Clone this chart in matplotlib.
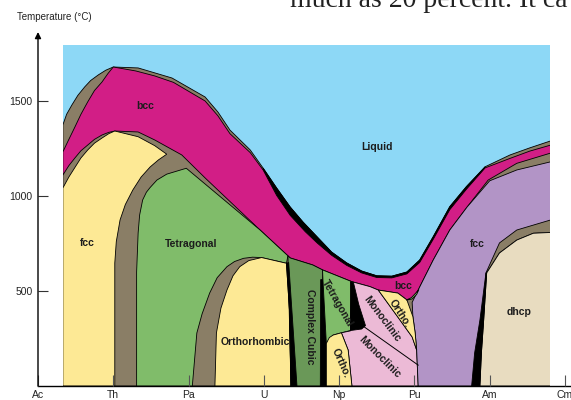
import numpy as np
import matplotlib
matplotlib.use('Agg')
import matplotlib.pyplot as plt
from matplotlib.patches import Rectangle

# axis labels
ELEMENTS = ['Ac', 'Th', 'Pa', 'U', 'Np', 'Pu', 'Am', 'Cm']
Y_TICKS = [500, 1000, 1500]

# extent of the coloured diagram (element index, deg C)
X_LEFT, X_RIGHT, T_TOP = 0.33, 6.81, 1795

# liquidus (top of all solid phases)
LIQ_X = [0.33, 0.38, 0.45, 0.53, 0.62, 0.70, 0.80, 0.90, 1.00, 1.33, 1.78, 2.22, 2.39, 2.55,
         2.82, 2.99, 3.17, 3.35, 3.52, 3.71, 3.90, 4.10, 4.30, 4.50, 4.70, 4.90, 5.07, 5.25,
         5.47, 5.69, 5.94, 6.27, 6.53, 6.81]
LIQ_T = [1374, 1430, 1479, 1530, 1574, 1608, 1637, 1662, 1679, 1674, 1621, 1521, 1442, 1347,
         1242, 1147, 1042, 942, 863, 784, 705, 648, 605, 580, 578, 600, 663, 786,
         944, 1049, 1154, 1216, 1253, 1290]

# bcc phase, upper and lower boundary
BCC_TOP_X = [0.33, 0.40, 0.49, 0.57, 0.66, 0.75, 0.85, 0.93, 1.00, 1.30, 1.55, 1.80, 2.22,
             2.39, 2.55, 2.82, 2.99, 3.17, 3.35, 3.55, 3.71, 3.90, 4.10, 4.30, 4.50, 4.70,
             4.90, 5.07, 5.25, 5.47, 5.69, 5.94, 6.27, 6.53, 6.81]
BCC_TOP_T = [1232, 1290, 1363, 1430, 1495, 1555, 1600, 1645, 1679, 1658, 1632, 1598, 1500,
             1422, 1328, 1228, 1137, 1003, 898, 812, 752, 688, 635, 595, 571, 569,
             590, 650, 772, 928, 1035, 1148, 1198, 1236, 1268]
BCC_BOT_X = [0.33, 0.41, 0.49, 0.57, 0.66, 0.75, 0.85, 0.94, 1.02, 1.33, 1.55, 1.91, 2.22,
             2.95, 3.35, 3.65, 3.78, 4.17, 4.41, 4.52, 4.78, 4.90, 4.98, 5.05, 5.07, 5.25,
             5.47, 5.70, 5.98, 6.36, 6.81]
BCC_BOT_T = [1110, 1160, 1200, 1238, 1268, 1298, 1321, 1335, 1342, 1337, 1295, 1216, 1095,
             821, 674, 637, 611, 549, 523, 505, 489, 453, 463, 505, 521, 663,
             821, 942, 1084, 1172, 1226]

# fcc (Ac - Th)
FCC1_X = [0.33, 0.33, 0.41, 0.49, 0.57, 0.66, 0.75, 0.85, 0.94, 1.02, 1.33, 1.55, 1.71, 1.60,
          1.49, 1.37, 1.26, 1.16, 1.09, 1.04, 1.02, 1.02]
FCC1_T = [0, 1042, 1100, 1150, 1200, 1242, 1278, 1305, 1328, 1342, 1312, 1265, 1220, 1190,
          1153, 1100, 1032, 955, 874, 760, 647, 0]

# tetragonal (Pa - U)
TET1_X = [1.31, 1.31, 1.33, 1.35, 1.39, 1.44, 1.49, 1.58, 1.71, 1.97, 2.95, 3.32, 3.30, 2.97,
          2.85, 2.73, 2.61, 2.51, 2.38, 2.28, 2.18, 2.11, 2.05]
TET1_T = [0, 600, 805, 900, 979, 1020, 1045, 1084, 1115, 1146, 821, 685, 646, 676,
          678, 672, 655, 628, 570, 489, 380, 279, 0]

# orthorhombic (U)
ORTH_U_X = [2.35, 2.37, 2.43, 2.51, 2.59, 2.68, 2.80, 2.97, 3.30, 3.34, 3.36]
ORTH_U_T = [0, 279, 410, 505, 580, 628, 660, 676, 646, 400, 0]

# complex cubic
CCUB_X = [3.32, 3.35, 3.65, 3.78, 3.78, 3.36]
CCUB_T = [685, 674, 637, 611, 0, 0]

# narrow two-phase strips (black)
STRIP1_X = [3.30, 3.33, 3.44, 3.36, 3.34]
STRIP1_T = [646, 650, 0, 0, 400]
STRIP2_X = [3.755, 3.785, 3.83, 3.83, 3.75]
STRIP2_T = [560, 560, 224, 0, 0]
NPPU_X = [4.15, 4.19, 4.26, 4.35, 4.30, 4.15]
NPPU_T = [549, 545, 430, 318, 300, 292]
AMW_X = [5.76, 5.80, 5.87, 5.95, 5.96, 5.92, 5.89, 5.87]
AMW_T = [0, 174, 347, 595, 595, 347, 174, 0]

# tetragonal (Np)
TET_NP_X = [3.78, 4.17, 4.15, 4.03, 3.92, 3.83, 3.785]
TET_NP_T = [611, 549, 292, 280, 268, 224, 560]

# ortho (Np)
ORTH_NP_X = [3.83, 3.83, 3.87, 3.92, 4.03, 4.12, 4.17]
ORTH_NP_T = [0, 224, 255, 268, 280, 189, 0]

# monoclinic (Np - Pu)
MONO_X = [4.03, 4.15, 4.17, 4.41, 4.52, 4.78, 4.97, 5.03, 5.05, 4.17, 4.12]
MONO_T = [280, 290, 549, 523, 505, 363, 258, 189, 0, 0, 189]
MONO_LINE_X = [4.33, 5.05]
MONO_LINE_T = [312, 110]

# ortho (Pu)
ORTH_PU_X = [4.52, 4.78, 4.90, 4.98, 5.01, 5.03, 4.97, 4.78]
ORTH_PU_T = [505, 489, 453, 365, 279, 189, 258, 363]

# small tetragonal lens at Pu
DPR_X = [4.89, 4.96, 5.02, 5.06, 5.03, 4.97]
DPR_T = [452, 465, 490, 508, 482, 458]

# fcc (Pu - Cm)
FCC2_X = [5.05, 5.03, 5.01, 4.98, 4.97, 5.07, 5.25, 5.47, 5.70, 6.00, 6.36, 6.81, 6.81]
FCC2_T = [0, 189, 279, 365, 440, 521, 663, 821, 942, 1080, 1137, 1180, 0]

# dhcp (Am - Cm) and its two-phase band
DHCP_X = [5.87, 5.89, 5.92, 5.96, 6.13, 6.36, 6.58, 6.81, 6.81]
DHCP_T = [0, 174, 347, 595, 700, 768, 804, 808, 0]
DHCP_BAND_X = [5.95, 6.13, 6.36, 6.81]
DHCP_BAND_T = [595, 753, 821, 874]

LABELS = [
    ('bcc', 1.43, 1474, 0), ('Liquid', 4.50, 1258, 0), ('fcc', 0.66, 753, 0),
    ('Tetragonal', 2.03, 747, 0), ('Orthorhombic', 2.89, 232, 0),
    ('Complex Cubic', 3.61, 310, -90), ('Tetragonal', 3.97, 435, -60),
    ('Monoclinic', 4.575, 353, -53), ('Ortho.', 4.81, 384, -57),
    ('bcc', 4.85, 526, 0), ('Ortho.', 4.02, 119, -66),
    ('Monoclinic', 4.54, 150, -45), ('fcc', 5.83, 747, 0), ('dhcp', 6.39, 389, 0),
]

BLUE = '#8dd8f6'
BROWN = '#8a7e66'
MAGENTA = '#d21e86'
YELLOW = '#fde995'
GREEN = '#80bc6a'
DKGREEN = '#6a9858'
PINK = '#ecbad6'
PURPLE = '#b294c6'
BEIGE = '#e8dcc0'

plt.rcParams['font.family'] = ['Liberation Sans', 'DejaVu Sans']

fig = plt.figure(figsize=(5.71, 4.0), dpi=100)
ax = fig.add_axes([38 / 571, 14 / 400, 533 / 571, 361 / 400])
ax.set_xlim(0, 7.08)
ax.set_ylim(0, 1900)

# clip everything to the diagram frame (inset a hair so frame edges show no line)
frame = Rectangle((X_LEFT + 0.006, 0), X_RIGHT - X_LEFT - 0.012, T_TOP, transform=ax.transData)


def region(xs, ts, color, edge='black', lw=0.6):
    p = ax.fill(xs, ts, facecolor=color, edgecolor=edge, linewidth=lw, zorder=1)[0]
    p.set_clip_path(frame)
    return p


region([X_LEFT, X_RIGHT, X_RIGHT, X_LEFT], [0, 0, T_TOP, T_TOP], BLUE, edge='none')
region(LIQ_X + [X_RIGHT, X_LEFT], LIQ_T + [0, 0], BROWN)

# black sliver under the liquidus from U to Am
lx, lt = np.array(LIQ_X), np.array(LIQ_T)
bx, bt = np.array(BCC_TOP_X), np.array(BCC_TOP_T)
s1 = (lx >= 2.99) & (lx <= 5.94)
s2 = (bx >= 2.99) & (bx <= 5.94)
region(np.r_[lx[s1], bx[s2][::-1]], np.r_[lt[s1], bt[s2][::-1]], 'black')

region(BCC_TOP_X + BCC_BOT_X[::-1], BCC_TOP_T + BCC_BOT_T[::-1], MAGENTA)
region(FCC1_X, FCC1_T, YELLOW)
region(TET1_X, TET1_T, GREEN)
region(ORTH_U_X, ORTH_U_T, YELLOW)
region(CCUB_X, CCUB_T, DKGREEN)
region(STRIP1_X, STRIP1_T, 'black')
region(STRIP2_X, STRIP2_T, 'black')
region(TET_NP_X, TET_NP_T, GREEN)
region(MONO_X, MONO_T, PINK)
region(NPPU_X, NPPU_T, 'black')
region(ORTH_NP_X, ORTH_NP_T, YELLOW)
region(FCC2_X, FCC2_T, PURPLE)
region(ORTH_PU_X, ORTH_PU_T, YELLOW)
region(DPR_X, DPR_T, GREEN)
ax.plot(MONO_LINE_X, MONO_LINE_T, color='black', lw=0.7, zorder=1)
region(DHCP_BAND_X + [X_RIGHT] + DHCP_X[::-1][1:], DHCP_BAND_T + [0] + DHCP_T[::-1][1:], BROWN)
region(DHCP_X, DHCP_T, BEIGE)
region(AMW_X, AMW_T, 'black')

for txt, x, t, rot in LABELS:
    ax.text(x, t, txt, ha='center', va='center', rotation=rot, rotation_mode='anchor',
            fontsize=7.5, fontweight='bold', color='#1c1c1c', zorder=3)

# axes: bottom line, arrow on the temperature axis, inward ticks
for side in ['left', 'right', 'top']:
    ax.spines[side].set_visible(False)
ax.spines['bottom'].set_linewidth(1.0)
ax.set_axisbelow(False)
ax.annotate('', xy=(0, 1863), xytext=(0, 0), annotation_clip=False,
            arrowprops=dict(arrowstyle='-|>', color='black', lw=1.0,
                            mutation_scale=9, shrinkA=0, shrinkB=0))
ax.set_xticks(range(len(ELEMENTS)))
ax.set_xticklabels(ELEMENTS)
ax.set_yticks(Y_TICKS)
ax.tick_params(axis='x', direction='in', length=8, width=0.8, color='#555555',
               labelsize=7.5, pad=3, labelcolor='#222222')
ax.tick_params(axis='y', direction='in', length=7, width=0.8, color='#333333',
               labelsize=7.5, pad=4, labelcolor='#222222')

fig.text(54 / 571, 1 - 17 / 400, 'Temperature (\u00b0C)', ha='center', va='center',
         fontsize=7, color='#222222')
fig.text(290 / 571, 1 - 7 / 400, 'much as 20 percent. It ca', ha='left', va='baseline',
         fontsize=20, family='Liberation Serif', color='#222222')

fig.savefig('out.png', dpi=100)
